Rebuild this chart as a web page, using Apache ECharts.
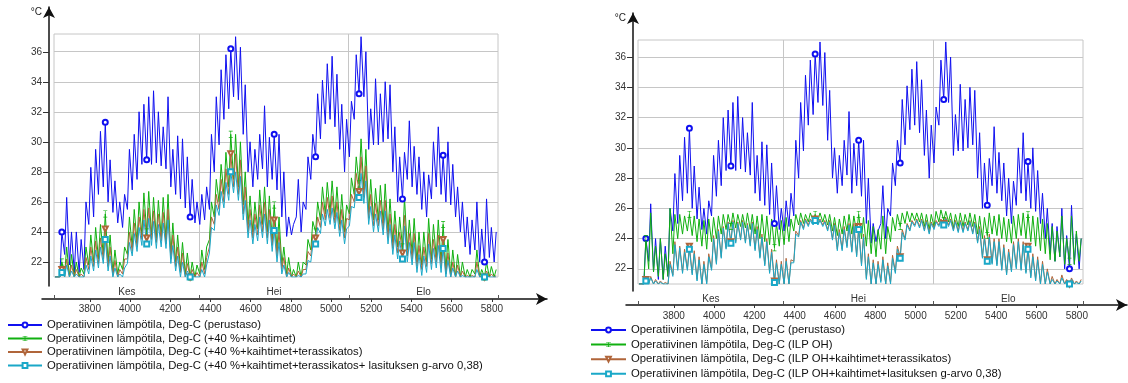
<!DOCTYPE html>
<html>
<head>
<meta charset="utf-8">
<script src="https://cdn.jsdelivr.net/npm/echarts@6/dist/echarts.min.js"></script>
<style>html,body{margin:0;padding:0;background:#fff}#main{width:1128px;height:383px}</style>
</head>
<body>
<div id="main"></div>
<script>
var myChart = echarts.init(document.getElementById('main'));

// hours of year: June 1 .. Aug 31 (one peak + one trough per day)
var firstHour = 3624;
var hourTicks = [3800, 4000, 4200, 4400, 4600, 4800, 5000, 5200, 5400, 5600, 5800];
var monthEdges = [3624, 4344, 5088, 5832];
var monthMids = [3984, 4716, 5460];
var monthNames = ['Kes', 'Hei', 'Elo'];
var yTicks = [22, 24, 26, 28, 30, 32, 34, 36];
var markIdx = [3, 21, 38, 56, 73, 91, 108, 126, 144, 161, 178];

// perustaso (same in both charts)
var baseHi = [21.0, 24.0, 26.3, 24.0, 24.0, 23.5, 26.0, 28.3, 29.5, 30.7,
  31.3, 28.8, 27.4, 26.0, 26.5, 29.5, 30.5, 32.0, 32.5, 33.0,
  33.4, 32.0, 31.0, 33.0, 29.5, 30.4, 30.2, 29.0, 27.5, 26.0,
  26.5, 27.0, 30.5, 33.0, 34.8, 35.8, 36.2, 37.0, 36.3, 33.8,
  30.0, 29.5, 30.5, 32.4, 30.3, 30.5, 30.5, 28.0, 25.0, 24.5,
  27.5, 26.0, 29.0, 30.5, 33.2, 34.1, 35.2, 35.7, 34.5, 32.5,
  31.5, 32.7, 35.8, 37.0, 36.0, 32.2, 34.2, 33.2, 34.0, 33.8,
  31.0, 29.0, 29.3, 31.4, 29.7, 29.0, 28.0, 27.8, 30.0, 31.0,
  29.1, 30.0, 28.5, 27.0, 26.0, 25.0, 24.8, 26.0, 24.2, 26.2,
  24.3, 24.0];
var baseLo = [21.0, 21.0, 22.5, 21.8, 21.3, 21.3, 21.5, 24.5, 25.0, 26.5,
  27.0, 26.0, 25.3, 24.6, 24.3, 25.5, 26.8, 27.5, 28.5, 28.8,
  28.5, 28.6, 28.4, 28.2, 27.0, 26.5, 26.2, 25.6, 25.0, 24.6,
  24.5, 24.8, 25.5, 28.0, 29.8, 31.5, 32.2, 33.0, 32.8, 30.5,
  28.0, 27.0, 27.5, 28.2, 27.0, 27.5, 26.8, 25.0, 23.7, 23.8,
  25.0, 24.0, 25.5, 27.5, 29.0, 30.2, 31.2, 31.5, 31.0, 29.5,
  28.0, 29.0, 31.5, 33.2, 33.0, 29.5, 29.8, 29.8, 30.0, 30.2,
  28.0, 26.0, 26.2, 27.5, 27.0, 26.5, 25.5, 25.0, 26.2, 27.0,
  26.5, 26.0, 25.8, 25.0, 24.0, 23.0, 22.5, 22.8, 22.0, 22.0,
  22.3, 22.0];

// left chart: +40 %+kaihtimet
var kaiHi = [21.0, 22.0, 23.0, 22.5, 22.0, 21.6, 23.0, 23.8, 24.3, 24.5,
  25.2, 23.8, 22.8, 22.0, 23.0, 25.0, 25.5, 26.0, 26.6, 26.7,
  26.3, 26.1, 26.3, 26.5, 24.6, 23.8, 23.3, 22.6, 22.0, 21.8,
  22.8, 23.0, 26.0, 27.5, 28.5, 29.3, 30.5, 30.5, 30.0, 28.0,
  26.4, 26.0, 26.8, 27.0, 26.4, 25.8, 25.0, 23.0, 22.3, 21.5,
  22.0, 22.0, 23.5, 24.7, 26.0, 27.0, 27.3, 27.4, 27.0, 26.5,
  25.8, 27.6, 29.0, 30.2, 29.5, 27.5, 26.9, 27.1, 27.2, 26.2,
  25.4, 25.0, 26.3, 24.8, 24.9, 24.0, 24.0, 24.9, 24.5, 24.8,
  24.5, 23.5, 22.8, 22.5, 22.0, 21.5, 21.5, 22.8, 21.5, 22.0,
  21.7, 21.5];
var kaiLo = [21.0, 21.0, 21.2, 21.0, 21.0, 21.0, 21.2, 21.8, 22.0, 22.2,
  22.5, 22.0, 21.3, 21.2, 21.5, 22.5, 23.0, 23.3, 23.8, 24.0,
  23.8, 23.6, 23.7, 23.5, 22.5, 22.0, 21.5, 21.2, 21.0, 21.0,
  21.2, 21.5, 23.5, 25.0, 26.0, 26.5, 27.0, 27.5, 27.0, 25.8,
  24.5, 24.0, 24.2, 24.5, 24.0, 23.5, 22.8, 21.8, 21.2, 21.0,
  21.0, 21.0, 21.8, 22.8, 24.0, 24.8, 25.2, 25.3, 25.0, 24.5,
  24.0, 25.2, 26.5, 27.2, 26.8, 25.3, 24.8, 24.8, 24.6, 24.0,
  23.3, 23.0, 23.0, 22.8, 22.6, 22.0, 21.8, 22.0, 22.2, 22.3,
  22.0, 21.5, 21.2, 21.0, 21.0, 21.0, 21.0, 21.2, 21.0, 21.0,
  21.0, 21.0];

// left chart: +40 %+kaihtimet+terassikatos
var terHi = [21.0, 21.5, 22.2, 21.8, 21.5, 21.2, 22.3, 23.0, 23.4, 23.6,
  24.2, 23.0, 22.1, 21.5, 22.2, 24.0, 24.6, 25.0, 25.5, 25.6,
  25.4, 25.2, 25.3, 25.5, 23.8, 23.0, 22.6, 21.9, 21.5, 21.3,
  22.0, 22.3, 25.0, 26.5, 27.5, 28.2, 29.2, 29.2, 28.8, 27.0,
  25.5, 25.2, 25.8, 26.0, 25.5, 24.8, 24.0, 22.3, 21.6, 21.2,
  21.4, 21.5, 22.7, 23.8, 25.0, 26.0, 26.3, 26.4, 26.0, 25.5,
  24.9, 26.5, 27.9, 29.0, 28.4, 26.5, 25.9, 26.1, 26.1, 25.2,
  24.5, 24.0, 25.1, 23.9, 23.9, 23.1, 23.0, 23.9, 23.5, 23.8,
  23.5, 22.6, 22.0, 21.8, 21.4, 21.1, 21.1, 22.0, 21.1, 21.4,
  21.2, 21.1];
var terLo = [21.0, 21.0, 21.0, 21.0, 21.0, 21.0, 21.0, 21.5, 21.7, 21.9,
  22.2, 21.7, 21.1, 21.0, 21.2, 22.2, 22.7, 23.0, 23.5, 23.6,
  23.5, 23.3, 23.4, 23.2, 22.2, 21.7, 21.3, 21.0, 21.0, 21.0,
  21.0, 21.2, 23.0, 24.5, 25.5, 26.0, 26.5, 27.0, 26.5, 25.2,
  24.0, 23.6, 23.8, 24.0, 23.6, 23.1, 22.4, 21.5, 21.0, 21.0,
  21.0, 21.0, 21.5, 22.4, 23.6, 24.3, 24.8, 24.9, 24.6, 24.1,
  23.6, 24.8, 26.0, 26.7, 26.3, 24.9, 24.4, 24.4, 24.2, 23.6,
  22.9, 22.6, 22.6, 22.4, 22.2, 21.7, 21.5, 21.7, 21.9, 22.0,
  21.7, 21.2, 21.0, 21.0, 21.0, 21.0, 21.0, 21.0, 21.0, 21.0,
  21.0, 21.0];

// left chart: + lasituksen g-arvo 0,38
var lasHi = [21.0, 21.3, 21.8, 21.4, 21.2, 21.0, 21.8, 22.4, 22.8, 23.0,
  23.5, 22.4, 21.6, 21.2, 21.6, 23.3, 23.9, 24.3, 24.8, 24.9,
  24.7, 24.5, 24.6, 24.8, 23.1, 22.4, 22.0, 21.4, 21.1, 21.0,
  21.5, 21.8, 24.3, 25.8, 26.7, 27.3, 28.0, 28.0, 27.7, 26.1,
  24.8, 24.5, 25.0, 25.2, 24.8, 24.1, 23.3, 21.8, 21.3, 21.0,
  21.1, 21.2, 22.1, 23.1, 24.3, 25.2, 25.5, 25.6, 25.3, 24.8,
  24.2, 25.7, 26.9, 27.9, 27.4, 25.7, 25.2, 25.4, 25.4, 24.5,
  23.8, 23.4, 24.4, 23.3, 23.3, 22.5, 22.4, 23.2, 22.9, 23.1,
  22.9, 22.1, 21.6, 21.4, 21.1, 21.0, 21.0, 21.5, 21.0, 21.1,
  21.0, 21.0];
var lasLo = [21.0, 21.0, 21.0, 21.0, 21.0, 21.0, 21.0, 21.2, 21.4, 21.6,
  21.9, 21.4, 21.0, 21.0, 21.0, 21.9, 22.4, 22.7, 23.1, 23.2,
  23.1, 22.9, 23.0, 22.9, 21.9, 21.4, 21.0, 21.0, 21.0, 21.0,
  21.0, 21.0, 22.6, 24.1, 25.1, 25.6, 26.1, 26.6, 26.1, 24.8,
  23.6, 23.2, 23.4, 23.6, 23.2, 22.7, 22.0, 21.2, 21.0, 21.0,
  21.0, 21.0, 21.2, 22.0, 23.2, 23.9, 24.4, 24.5, 24.2, 23.7,
  23.2, 24.4, 25.6, 26.3, 25.9, 24.5, 24.0, 24.0, 23.8, 23.2,
  22.5, 22.2, 22.2, 22.0, 21.8, 21.3, 21.1, 21.3, 21.5, 21.6,
  21.3, 21.0, 21.0, 21.0, 21.0, 21.0, 21.0, 21.0, 21.0, 21.0,
  21.0, 21.0];

// right chart: ILP OH
var ilpHi = [21.0, 24.0, 25.7, 23.5, 24.0, 23.0, 26.0, 25.6, 25.6, 25.5,
  25.6, 25.5, 25.3, 25.2, 25.3, 25.4, 25.5, 25.6, 25.6, 25.7,
  25.6, 25.6, 25.7, 25.6, 25.5, 25.6, 25.5, 25.3, 25.0, 25.2,
  25.4, 25.3, 25.6, 25.7, 25.6, 25.7, 25.6, 25.7, 25.6, 25.6,
  25.4, 25.3, 25.5, 25.6, 25.5, 25.6, 25.4, 25.2, 24.8, 24.6,
  25.5, 24.8, 25.4, 25.6, 25.7, 25.8, 25.7, 25.7, 25.7, 25.6,
  25.6, 25.8, 25.9, 25.8, 25.7, 25.6, 25.7, 25.6, 25.7, 25.6,
  25.5, 25.4, 25.7, 25.5, 25.6, 25.4, 25.3, 25.5, 25.6, 25.7,
  25.6, 25.5, 25.4, 25.3, 25.0, 24.8, 24.5, 25.5, 24.0, 25.5,
  24.5, 24.0];
var ilpLo = [21.0, 21.0, 22.0, 21.8, 21.5, 21.3, 21.5, 23.0, 24.0, 24.3,
  24.5, 24.2, 23.8, 23.5, 23.3, 23.8, 24.0, 24.3, 24.6, 24.8,
  24.7, 24.8, 24.7, 24.6, 24.3, 24.0, 23.8, 23.6, 23.4, 23.5,
  23.6, 23.8, 24.5, 24.9, 25.0, 25.1, 25.2, 25.2, 25.1, 24.9,
  24.5, 24.2, 24.3, 24.5, 24.3, 24.4, 24.0, 23.5, 23.0, 22.8,
  23.3, 23.0, 23.8, 24.5, 24.8, 25.0, 25.1, 25.2, 25.1, 24.8,
  24.6, 24.8, 25.1, 25.2, 25.1, 24.7, 24.8, 24.8, 24.9, 24.8,
  24.3, 24.0, 24.2, 24.3, 24.2, 24.0, 23.8, 23.7, 24.0, 24.2,
  24.0, 23.8, 23.5, 23.2, 23.0, 22.6, 22.5, 22.8, 22.3, 22.5,
  22.3, 22.5];

// right chart: ILP OH+kaihtimet+terassikatos
var ilpTerHi = [21.0, 21.3, 21.5, 21.3, 21.2, 21.1, 22.5, 23.8, 23.5, 23.3,
  23.5, 23.2, 22.8, 22.5, 23.0, 24.2, 24.6, 24.8, 25.1, 25.2,
  25.1, 25.2, 25.0, 25.1, 24.8, 24.3, 24.0, 23.3, 22.6, 22.5,
  22.7, 22.6, 24.5, 25.2, 25.3, 25.3, 25.3, 25.3, 25.2, 25.2,
  25.0, 24.6, 24.8, 25.0, 25.0, 24.8, 24.3, 23.0, 22.6, 22.5,
  22.8, 22.4, 22.9, 23.5, 24.6, 25.0, 25.2, 25.3, 25.3, 25.2,
  25.1, 25.2, 25.3, 25.4, 25.3, 25.2, 25.2, 25.1, 25.2, 25.1,
  24.8, 24.2, 24.3, 24.0, 24.0, 23.6, 23.3, 23.8, 24.0, 23.8,
  23.5, 23.0, 22.8, 22.5, 22.0, 21.5, 21.3, 21.6, 21.3, 21.4,
  21.2, 21.3];
var ilpTerLo = [21.0, 21.0, 21.0, 21.0, 21.0, 21.0, 21.0, 21.6, 22.0, 21.8,
  22.0, 21.7, 21.3, 21.0, 21.1, 22.0, 22.4, 22.8, 23.4, 23.8,
  23.8, 24.0, 23.8, 23.6, 23.3, 22.8, 22.3, 21.8, 21.2, 21.0,
  21.0, 21.0, 22.5, 24.2, 24.7, 24.9, 25.0, 25.0, 24.9, 24.6,
  24.0, 23.3, 23.3, 23.5, 23.2, 22.9, 22.3, 21.4, 21.0, 21.0,
  21.2, 21.0, 21.1, 21.8, 22.8, 24.0, 24.6, 24.9, 24.8, 24.6,
  24.4, 24.7, 24.9, 25.0, 24.9, 24.6, 24.5, 24.5, 24.6, 24.4,
  23.8, 22.8, 22.6, 22.4, 22.3, 22.0, 21.7, 21.9, 22.1, 22.0,
  21.8, 21.5, 21.3, 21.0, 21.0, 21.0, 21.0, 21.0, 21.0, 21.0,
  21.0, 21.0];

// right chart: ILP OH+kaihtimet+lasituksen g-arvo 0,38
var ilpLasHi = [21.0, 21.2, 21.4, 21.2, 21.1, 21.0, 22.3, 23.6, 23.4, 23.1,
  23.3, 23.0, 22.6, 22.3, 22.8, 24.0, 24.5, 24.7, 25.0, 25.1,
  25.0, 25.1, 24.9, 25.0, 24.6, 24.1, 23.8, 23.1, 22.4, 22.3,
  22.5, 22.4, 24.3, 25.1, 25.2, 25.2, 25.2, 25.2, 25.1, 25.1,
  24.9, 24.4, 24.6, 24.9, 24.8, 24.6, 24.1, 22.8, 22.4, 22.3,
  22.6, 22.2, 22.7, 23.3, 24.4, 24.9, 25.1, 25.2, 25.2, 25.1,
  25.0, 25.1, 25.2, 25.3, 25.2, 25.1, 25.1, 25.0, 25.1, 25.0,
  24.6, 24.0, 24.1, 23.8, 23.8, 23.4, 23.1, 23.6, 23.8, 23.6,
  23.3, 22.8, 22.6, 22.3, 21.8, 21.3, 21.2, 21.4, 21.2, 21.3,
  21.1, 21.2];
var ilpLasLo = [21.0, 21.0, 21.0, 21.0, 21.0, 21.0, 21.0, 21.5, 21.9, 21.7,
  21.9, 21.6, 21.2, 21.0, 21.0, 21.9, 22.3, 22.7, 23.3, 23.7,
  23.7, 23.9, 23.7, 23.5, 23.2, 22.7, 22.2, 21.7, 21.1, 21.0,
  21.0, 21.0, 22.4, 24.1, 24.6, 24.8, 24.9, 24.9, 24.8, 24.5,
  23.9, 23.2, 23.2, 23.4, 23.1, 22.8, 22.2, 21.3, 21.0, 21.0,
  21.1, 21.0, 21.0, 21.7, 22.7, 23.9, 24.5, 24.8, 24.7, 24.5,
  24.3, 24.6, 24.8, 24.9, 24.8, 24.5, 24.4, 24.4, 24.5, 24.3,
  23.7, 22.7, 22.5, 22.3, 22.2, 21.9, 21.6, 21.8, 22.0, 21.9,
  21.7, 21.4, 21.2, 21.0, 21.0, 21.0, 21.0, 21.0, 21.0, 21.0,
  21.0, 21.0];

var names = {
    base: 'Operatiivinen lämpötila, Deg-C (perustaso)',
    kai: 'Operatiivinen lämpötila, Deg-C (+40 %+kaihtimet)',
    ter: 'Operatiivinen lämpötila, Deg-C (+40 %+kaihtimet+terassikatos)',
    las: 'Operatiivinen lämpötila, Deg-C (+40 %+kaihtimet+terassikatos+ lasituksen g-arvo 0,38)',
    ilp: 'Operatiivinen lämpötila, Deg-C (ILP OH)',
    ilpTer: 'Operatiivinen lämpötila, Deg-C (ILP OH+kaihtimet+terassikatos)',
    ilpLas: 'Operatiivinen lämpötila, Deg-C (ILP OH+kaihtimet+lasituksen g-arvo 0,38)'
};

var cBlue = '#1010f0', cGreen = '#10b010', cBrown = '#b0653a', cCyan = '#1aa8c8';
var gridColor = '#c6c6c6';
var iBeam = 'path://M0,0H6V1H3.5V9H6V10H0V9H2.5V1H0Z';

// morning low + afternoon high for every day
function dayPoints(hi, lo) {
    var out = [];
    for (var d = 0; d < hi.length; d++) {
        out.push([firstHour + d * 24 + 5, lo[d]]);
        out.push([firstHour + d * 24 + 15, hi[d]]);
    }
    return out;
}

function lineSeries(name, hi, lo, color, symbol, size, g, extra) {
    var s = {
        name: name,
        type: 'line',
        xAxisIndex: g,
        yAxisIndex: g,
        data: dayPoints(hi, lo),
        symbol: symbol,
        showAllSymbol: true,
        symbolSize: function (v, p) {
            return markIdx.indexOf(p.dataIndex) >= 0 ? size : 0;
        },
        color: color,
        lineStyle: { color: color, width: 1 },
        itemStyle: { color: color, borderWidth: 1 },
        silent: true
    };
    return Object.assign(s, extra || {});
}

function plotX(g) {
    return {
        gridIndex: g, type: 'value', min: 3624, max: 5832,
        axisLine: { show: false },
        axisTick: { show: false, customValues: [4344, 5088] },
        axisLabel: { show: false },
        splitLine: { show: true, lineStyle: { color: gridColor, width: 1 } }
    };
}
function plotY(g, max) {
    return {
        gridIndex: g, type: 'value', min: 21, max: max,
        axisLine: { show: false },
        axisTick: { show: false, customValues: yTicks },
        axisLabel: { show: false },
        splitLine: { show: true, lineStyle: { color: gridColor, width: 1 } }
    };
}
function arrowY(g, min, max) {
    return {
        gridIndex: g, type: 'value', min: min, max: max, position: 'left',
        name: '°C', nameLocation: 'end', nameGap: -5,
        nameTextStyle: { align: 'right', verticalAlign: 'middle', padding: [0, 7, 0, 0], fontSize: 10, color: '#222' },
        axisLine: { show: true, symbol: ['none', 'arrow'], symbolSize: [9, 11], lineStyle: { color: '#111', width: 1.5 } },
        axisTick: { show: true, customValues: yTicks, length: 6, lineStyle: { color: '#333' } },
        axisLabel: { customValues: yTicks, fontSize: 10, color: '#333', margin: 7 },
        splitLine: { show: false }
    };
}
function hourAxis(g, min, max, margin) {
    return {
        gridIndex: g, type: 'value', min: min, max: max, position: 'bottom',
        axisLine: { show: true, onZero: false, symbol: ['none', 'arrow'], symbolSize: [9, 11], lineStyle: { color: '#111', width: 1.5 } },
        axisTick: { show: true, customValues: hourTicks, length: 3, lineStyle: { color: '#333' } },
        axisLabel: {
            customValues: hourTicks, fontSize: 10, color: '#333', margin: margin,
            formatter: function (v) { return String(v); }
        },
        splitLine: { show: false }
    };
}
function monthAxis(g, min, max, margin) {
    return {
        gridIndex: g, type: 'value', min: min, max: max, position: 'top',
        axisLine: { show: false, onZero: false },
        axisTick: { show: true, customValues: monthEdges, length: 3, lineStyle: { color: '#555' } },
        axisLabel: {
            customValues: monthMids, fontSize: 10, color: '#333', margin: margin,
            formatter: function (v) { return monthNames[monthMids.indexOf(v)]; }
        },
        splitLine: { show: false }
    };
}
function hiddenAxis(g) {
    return { gridIndex: g, type: 'value', show: false, min: 0, max: 1 };
}
function legendBox(left, top, width, gap, list) {
    return {
        left: left, top: top, padding: 0, height: 70, orient: 'vertical',
        itemWidth: width, itemHeight: 6, itemGap: gap,
        selectedMode: false, textStyle: { fontSize: 11.3, color: '#111', lineHeight: 12 },
        data: list
    };
}

var option = {
    animation: false,
    textStyle: { fontFamily: 'Liberation Sans' },
    grid: [
        { left: 54, top: 34, width: 444, height: 243, show: true, borderColor: gridColor, borderWidth: 1 },
        { left: 638, top: 40, width: 445, height: 244, show: true, borderColor: gridColor, borderWidth: 1 },
        { left: 49, top: 7, width: 1, height: 279 },
        { left: 633, top: 13, width: 1, height: 278 },
        { left: 42, top: 298, width: 505, height: 1 },
        { left: 626, top: 304, width: 501, height: 1 }
    ],
    xAxis: [
        plotX(0), plotX(1), hiddenAxis(2), hiddenAxis(3),
        hourAxis(4, 3562, 6074, 5), monthAxis(4, 3562, 6074, 1),
        hourAxis(5, 3563, 6049, 6), monthAxis(5, 3563, 6049, 0)
    ],
    yAxis: [
        plotY(0, 37.18), plotY(1, 37.13),
        arrowY(2, 20.42, 38.98), arrowY(3, 20.5, 38.94),
        hiddenAxis(4), hiddenAxis(5)
    ],
    legend: [
        legendBox(7, 319, 34, 1.5, [names.base, names.kai, names.ter, names.las]),
        legendBox(590, 324, 35, 2.6, [names.base, names.ilp, names.ilpTer, names.ilpLas])
    ],
    series: [
        lineSeries(names.base, baseHi, baseLo, cBlue, 'emptyCircle', 5, 0),
        lineSeries(names.kai, kaiHi, kaiLo, cGreen, iBeam, [4, 7], 0),
        lineSeries(names.ter, terHi, terLo, cBrown, 'emptyTriangle', 5, 0, { symbolRotate: 180 }),
        lineSeries(names.las, lasHi, lasLo, cCyan, 'emptyRect', 5, 0),
        lineSeries(names.base, baseHi, baseLo, cBlue, 'emptyCircle', 5, 1),
        lineSeries(names.ilp, ilpHi, ilpLo, cGreen, iBeam, [4, 7], 1),
        lineSeries(names.ilpTer, ilpTerHi, ilpTerLo, cBrown, 'emptyTriangle', 5, 1, { symbolRotate: 180 }),
        lineSeries(names.ilpLas, ilpLasHi, ilpLasLo, cCyan, 'emptyRect', 5, 1)
    ]
};

myChart.setOption(option);
</script>
</body>
</html>
